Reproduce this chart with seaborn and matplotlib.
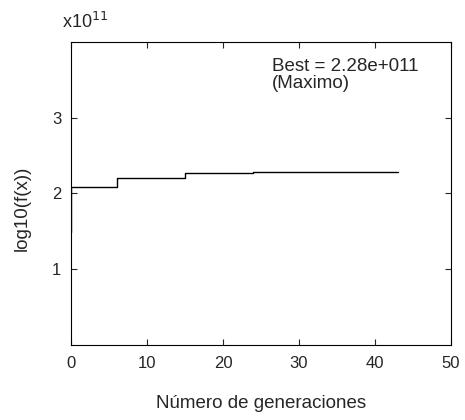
import matplotlib
matplotlib.use("Agg")
import matplotlib.pyplot as plt
import seaborn as sns
import numpy as np
import pandas as pd
from matplotlib.ticker import FuncFormatter

# Data (values in units of 1e11)
generations = list(range(0, 44))
best_values = [1.49] + [2.08] * 6 + [2.20] * 9 + [2.27] * 9 + [2.29] * 19
x_ticks = [0, 10, 20, 30, 40, 50]
y_ticks = [1, 2, 3]
annotation = "Best = 2.28e+011\n(Maximo)"

sns.set_style("ticks")
plt.rcParams['font.family'] = ['Liberation Sans', 'DejaVu Sans']

df = pd.DataFrame({"gen": generations, "val": np.array(best_values) * 1e11})

fig = plt.figure(figsize=(4.65, 4.2), dpi=100)
ax = fig.add_axes([0.1527, 0.1786, 0.8173, 0.7214])
sns.lineplot(data=df, x="gen", y="val", ax=ax, color="black", linewidth=1.0,
             drawstyle="steps-pre")

ax.set_xlim(0, 50)
ax.set_ylim(0, 4e11)
ax.set_xticks(x_ticks)
ax.set_yticks([v * 1e11 for v in y_ticks])
ax.yaxis.set_major_formatter(FuncFormatter(lambda v, p: f"{v/1e11:g}"))
ax.tick_params(direction="in", length=4, width=0.8, labelsize=12, top=True, right=True)
ax.tick_params(axis="x", pad=8)
ax.tick_params(axis="y", pad=7)
for s in ax.spines.values():
    s.set_visible(True)
    s.set_linewidth(0.8)
    s.set_color("black")

ax.set_xlabel("Número de generaciones", fontsize=13.5, labelpad=17)
ax.set_ylabel("log10(f(x))", fontsize=13.5, labelpad=15)
ax.yaxis.set_label_coords(-0.105, 0.452)
ax.text(26.4, 3.79e11, annotation, fontsize=13.5, va="top", ha="left", linespacing=1.0)
fig.text(62 / 465, 1 - 28 / 420, r"x10$^{11}$", fontsize=13, ha="left", va="baseline")

fig.savefig("out.png", dpi=100)
